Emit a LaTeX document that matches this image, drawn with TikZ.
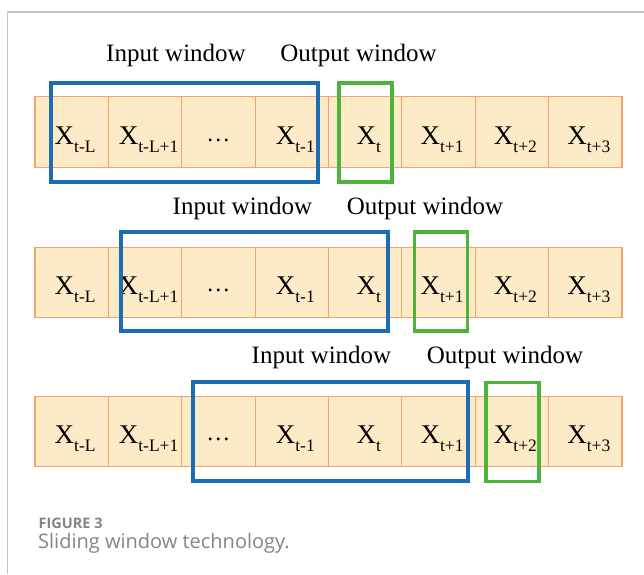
\documentclass[tikz,border=0pt]{standalone}
\usepackage{fontspec}
\setmainfont{Liberation Serif}
\newfontfamily\capfont{Open Sans}
\definecolor{cellfill}{HTML}{FDEBC8}
\definecolor{celldraw}{HTML}{F2A46E}
\definecolor{winblue}{HTML}{1C6DB3}
\definecolor{wingreen}{HTML}{4DB33A}
\definecolor{framegray}{HTML}{C4C4C4}
\definecolor{capgray}{HTML}{858585}
\newcommand{\xs}[1]{\hspace*{7pt}X\raisebox{-0.3em}{\fontsize{17.5}{17.5}\selectfont #1}}
\newcommand{\dotsym}{\raisebox{3pt}{\fontsize{24}{24}\selectfont …}}
\begin{document}
\begin{tikzpicture}[x=1pt,y=-1pt,
  cellbox/.style={draw=celldraw,fill=cellfill,line width=1.2pt,minimum width=73.375pt,minimum height=70.5pt,inner sep=0pt,text height=24pt,text depth=0pt,font=\fontsize{27}{27}\selectfont},
  inwin/.style={draw=winblue,line width=3.2pt,minimum height=99pt,inner sep=0pt},
  outwin/.style={draw=wingreen,line width=3.2pt,minimum height=99pt,minimum width=53pt,inner sep=0pt},
  lab/.style={font=\fontsize{25}{25}\selectfont,inner sep=0pt}]
\useasboundingbox (0,0) rectangle (644,574);
\fill[white] (0,0) rectangle (644,574);
\coordinate (fa) at (7.5,574);
\coordinate (fb) at (7.5,12);
\coordinate (fc) at (644,12);
\draw[framegray,line width=1.4pt] (fa) -- (fb) -- (fc);
\foreach \i/\t in {1/\xs{t-L},2/\xs{t-L+1},3/\dotsym,4/\xs{t-1},5/\xs{t},6/\xs{t+1},7/\xs{t+2},8/\xs{t+3}}{
  \node[cellbox] (a\i) at ({35+73.375*(\i-0.5)},132) {\t};
}
\foreach \i/\t in {1/\xs{t-L},2/\xs{t-L+1},3/\dotsym,4/\xs{t-1},5/\xs{t},6/\xs{t+1},7/\xs{t+2},8/\xs{t+3}}{
  \node[cellbox] (b\i) at ({35+73.375*(\i-0.5)},282.5) {\t};
}
\foreach \i/\t in {1/\xs{t-L},2/\xs{t-L+1},3/\dotsym,4/\xs{t-1},5/\xs{t},6/\xs{t+1},7/\xs{t+2},8/\xs{t+3}}{
  \node[cellbox] (c\i) at ({35+73.375*(\i-0.5)},431.5) {\t};
}
\node[inwin,minimum width=267pt] (ia) at (184.5,132.5) {};
\node[outwin] (oa) at (365.5,132.5) {};
\node[inwin,minimum width=267pt] (ib) at (254.5,281.5) {};
\node[outwin] (ob) at (441,281.5) {};
\node[inwin,minimum width=275pt] (ic) at (330.5,431.5) {};
\node[outwin] (oc) at (512.5,432) {};
\node[lab] (la1) at (176,55) {Input window};
\node[lab] (lb1) at (358.5,55) {Output window};
\node[lab] (la2) at (242.5,208) {Input window};
\node[lab] (lb2) at (425,208) {Output window};
\node[lab] (la3) at (321.5,357) {Input window};
\node[lab] (lb3) at (505,357) {Output window};
\node[anchor=base west,inner sep=0pt,text=capgray,font=\capfont\bfseries\fontsize{14.5}{14.5}\selectfont] (cap1) at (38.5,528.5) {FIGURE 3};
\node[anchor=base west,inner sep=0pt,text=capgray,font=\capfont\fontsize{20}{20}\selectfont] (cap2) at (38,548) {Sliding window technology.};
\end{tikzpicture}
\end{document}
